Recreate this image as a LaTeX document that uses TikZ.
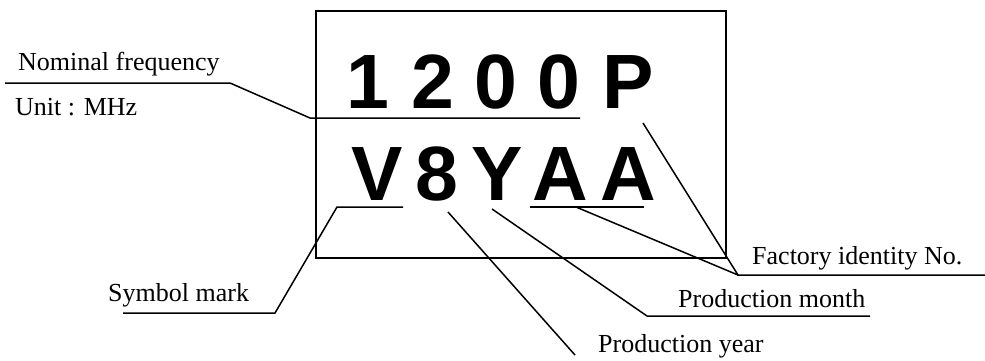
\documentclass[tikz,border=0pt]{standalone}
\usepackage{fontspec}
\setmainfont{Liberation Serif}
\newfontfamily\arialfont{Liberation Sans}
\begin{document}
\begin{tikzpicture}[x=1pt,y=-1pt,
  lbl/.style={anchor=base west,inner sep=0pt,font=\fontsize{26}{26}\selectfont},
  big/.style={anchor=base,inner sep=0pt,font=\arialfont\bfseries\fontsize{77}{77}\selectfont},
  ln/.style={line width=1.5pt},
  frame/.style={draw,line width=1.5pt}]
\useasboundingbox (0,0) rectangle (985,360);
\node[frame,minimum width=410pt,minimum height=247pt,anchor=north west,inner sep=0pt] (box) at (315,10) {};
% big characters
\node[big] (c1) at (368,108) {1};
\node[big] (c2) at (433,108) {2};
\node[big] (c3) at (496,108) {0};
\node[big] (c4) at (559,108) {0};
\node[big] (c5) at (628,108) {P};
\node[big] (d1) at (377,200) {V};
\node[big] (d2) at (437,200) {8};
\node[big] (d3) at (497,200) {Y};
\node[big] (d4) at (560,200) {A};
\node[big] (d5) at (628,200) {A};
% labels
\node[lbl] (nf) at (18,70) {Nominal frequency};
\node[lbl] (unit) at (15,115) {Unit : MHz};
\node[lbl] (sym) at (108,301) {Symbol mark};
\node[lbl] (fac) at (752,264) {Factory identity No.};
\node[lbl] (mon) at (678,307) {Production month};
\node[lbl] (yr) at (598,352) {Production year};
% connector points
\coordinate (nfA) at (5,83);
\coordinate (nfB) at (230,83);
\coordinate (nfC) at (310,118);
\coordinate (nfD) at (580,118);
\coordinate (smA) at (123,313);
\coordinate (smB) at (275,313);
\coordinate (smC) at (337,207);
\coordinate (smD) at (403,207);
\coordinate (yrA) at (448,212);
\coordinate (yrB) at (575,355);
\coordinate (mnA) at (492,209);
\coordinate (mnB) at (647,316);
\coordinate (mnC) at (870,316);
\coordinate (fcP) at (643,123);
\coordinate (fcJ) at (738,275);
\coordinate (fcE) at (985,275);
\coordinate (aaA) at (530,207);
\coordinate (aaB) at (644,207);
\coordinate (aaM) at (576,207);
% connectors
\draw[ln] (nfA) -- (nfB) -- (nfC) -- (nfD);
\draw[ln] (smA) -- (smB) -- (smC) -- (smD);
\draw[ln] (yrA) -- (yrB);
\draw[ln] (mnA) -- (mnB) -- (mnC);
\draw[ln] (aaA) -- (aaB);
\draw[ln] (aaM) -- (fcJ);
\draw[ln] (fcP) -- (fcJ) -- (fcE);
\end{tikzpicture}
\end{document}
